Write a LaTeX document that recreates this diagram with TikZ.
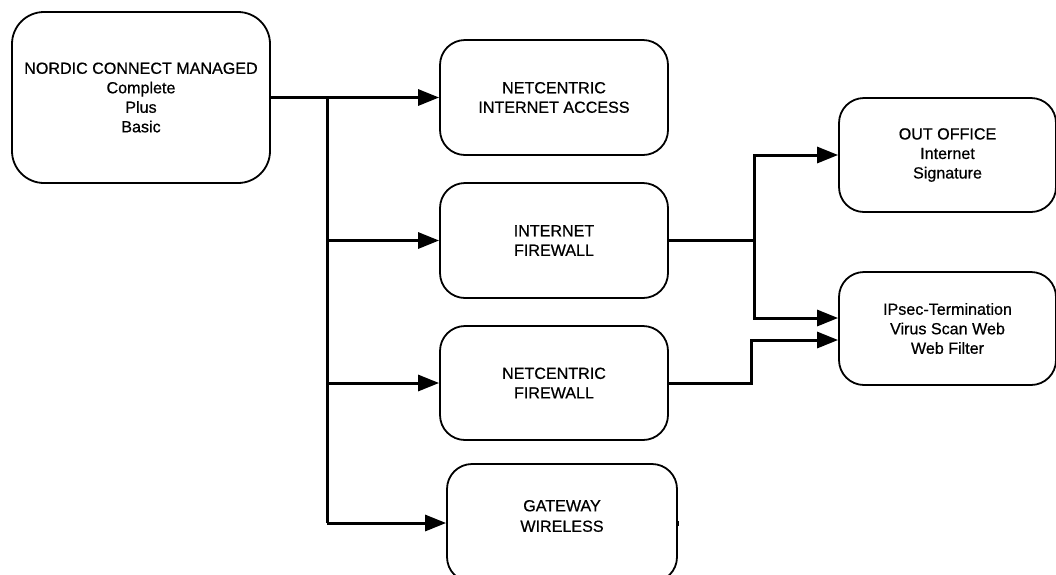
\documentclass[tikz,border=0pt]{standalone}
\usepackage{fontspec}
\setmainfont{Liberation Sans}[FakeBold=0.6]
\usetikzlibrary{arrows.meta}
\begin{document}
\begin{tikzpicture}[x=1pt,y=-1pt,
  box/.style={draw=black, line width=1.8pt, rounded corners=25pt, align=center,
    inner sep=0pt, font=\fontsize{16.1}{19.5}\selectfont},
  conn/.style={line width=3pt, line join=miter},
  arr/.style={conn, -{Triangle[length=21pt,width=16pt]}}]
\useasboundingbox (0,0) rectangle (1056,574);
\path[clip] (0,0) rectangle (1056,574);
\fill[white] (0,0) rectangle (1056,574);

\node[box, rounded corners=32pt, minimum width=258pt, minimum height=171pt] (b1) at (141,97.5)
  {NORDIC CONNECT MANAGED\\Complete\\Plus\\Basic};
\node[box, minimum width=228pt, minimum height=115pt] (b2) at (554,97.5)
  {NETCENTRIC\\INTERNET ACCESS};
\node[box, minimum width=228pt, minimum height=115pt] (b3) at (554,240.5)
  {INTERNET\\FIREWALL};
\node[box, minimum width=228pt, minimum height=114pt] (b4) at (554,383)
  {NETCENTRIC\\FIREWALL};
\node[box, minimum width=230pt, minimum height=118pt] (b5) at (562,523) {};
\node[align=center, inner sep=0pt, font=\fontsize{16.1}{20.5}\selectfont] (b5t) at (562,516)
  {GATEWAY\\WIRELESS};
\node[box, minimum width=217pt, minimum height=114pt] (b6) at (947.5,155)
  {OUT OFFICE\\Internet\\Signature};
\node[box, minimum width=217pt, minimum height=113pt] (b7) at (947.5,328.5)
  {IPsec-Termination\\Virus Scan Web\\Web Filter};
\fill (b5.east) ++(-1pt,-2.5pt) rectangle ++(2.5pt,5pt);

\coordinate (t1) at (327,97.5);
\coordinate (t2) at (327,523);
\coordinate (j1) at (754,240.5);
\coordinate (j2) at (751,383);

\draw[arr] (b1.east) -- (b2.west);
\draw[conn] (t1) -- (t2);
\draw[arr] (t1 |- b3.west) -- (b3.west);
\draw[arr] (t1 |- b4.west) -- (b4.west);
\draw[arr] (t2) -- (b5.west);

\draw[conn] (b3.east) -- (j1);
\draw[arr] (j1) |- (b6.west);
\draw[arr] (j1) |- ([yshift=10.5pt]b7.west);
\draw[arr] (b4.east) -- (j2) |- ([yshift=-11.5pt]b7.west);
\end{tikzpicture}
\end{document}
